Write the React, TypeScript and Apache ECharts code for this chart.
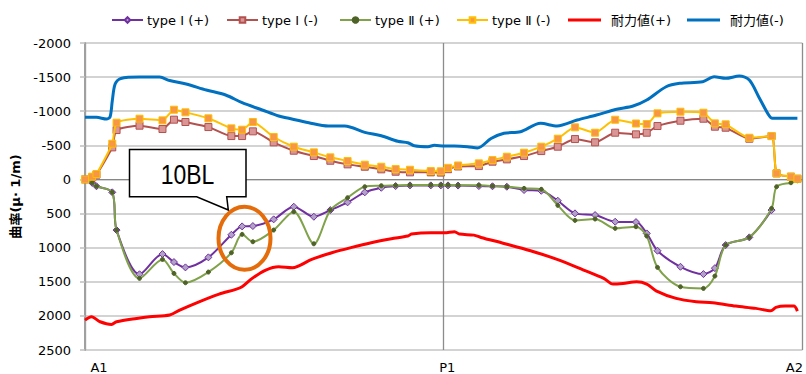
import React, { useEffect, useRef } from "react";
import * as echarts from "echarts";

// Marker positions along the bridge (A1 = 0, P1 = 50, A2 = 100)
const xPos = [0, 1.0, 1.6, 3.8, 4.4, 7.6, 10.8, 12.4, 14.0, 17.2, 20.4, 21.9, 23.4, 26.3, 29.1, 31.9, 34.2, 36.6, 39.0, 41.3, 43.3, 45.3, 48.2, 49.6, 50.6, 52.0, 54.9, 56.8, 58.8, 61.2, 63.6, 65.9, 68.3, 71.1, 73.9, 76.8, 78.3, 79.8, 83.0, 86.2, 87.8, 89.3, 92.6, 95.7, 96.4, 98.4, 99.3];

const typeIPlus = [0, 50, 100, 189, 742, 1390, 1094, 1211, 1289, 1142, 811, 688, 683, 585, 400, 547, 449, 336, 189, 122, 97, 87, 87, 87, 87, 90, 97, 100, 107, 155, 166, 312, 497, 522, 620, 625, 791, 1045, 1280, 1387, 1300, 962, 849, 449];
const typeIMinus = [0, -30, -70, -470, -724, -788, -739, -876, -842, -768, -636, -636, -705, -544, -421, -343, -274, -221, -186, -148, -113, -104, -104, -100, -150, -190, -196, -260, -294, -343, -416, -480, -592, -544, -685, -661, -685, -783, -861, -890, -773, -758, -597, -636, -89, -40, -10];
const typeIIPlus = [0, 50, 100, 189, 742, 1450, 1172, 1377, 1514, 1358, 1075, 805, 913, 742, 473, 943, 449, 268, 107, 92, 87, 82, 82, 82, 82, 85, 85, 97, 107, 131, 145, 380, 600, 580, 717, 693, 830, 1289, 1573, 1597, 1416, 962, 849, 424, 107, 48, 19];
const typeIIMinus = [0, -40, -79, -524, -832, -890, -866, -1022, -984, -896, -749, -729, -842, -622, -480, -397, -324, -270, -216, -186, -152, -142, -123, -120, -170, -205, -236, -284, -333, -392, -480, -597, -764, -685, -875, -820, -812, -969, -993, -978, -822, -808, -611, -636, -89, -40, -10];

const redX = [0, 0.9, 2.1, 3.7, 4.4, 7.2, 9.0, 11.8, 13.2, 15.9, 18.7, 21.0, 21.9, 23.3, 25.2, 27.0, 28.9, 31.6, 34.4, 37.2, 39.9, 42.7, 45.0, 45.5, 48.2, 50.1, 51.5, 52.2, 54.2, 55.2, 58.4, 62.1, 65.8, 69.5, 72.3, 73.6, 75.0, 76.9, 78.3, 79.6, 82.4, 85.2, 87.5, 90.7, 93.5, 95.6, 96.3, 97.6, 98.8, 99.3];
const redY = [2062, 2013, 2086, 2125, 2086, 2037, 2013, 1988, 1915, 1793, 1680, 1612, 1573, 1450, 1328, 1280, 1295, 1172, 1075, 996, 928, 870, 830, 801, 782, 782, 765, 801, 816, 850, 938, 1045, 1172, 1328, 1450, 1534, 1524, 1500, 1534, 1632, 1744, 1793, 1808, 1856, 1890, 1925, 1876, 1856, 1856, 1930];

const blueX = [0, 1.6, 3.0, 3.5, 3.8, 4.2, 5.0, 7.6, 10.4, 11.8, 14.1, 16.9, 19.6, 21.9, 24.7, 27.0, 28.4, 31.2, 33.9, 36.2, 39.0, 41.3, 43.6, 45.0, 45.9, 47.8, 48.7, 50.1, 51.5, 53.3, 54.7, 56.6, 58.4, 60.7, 63.5, 65.8, 68.6, 71.3, 74.1, 76.4, 78.3, 81.0, 82.9, 86.1, 87.7, 89.3, 91.2, 92.6, 93.9, 95.3, 95.8, 99.3];
const blueY = [-910, -910, -885, -920, -1150, -1400, -1480, -1500, -1500, -1450, -1399, -1311, -1238, -1125, -1018, -930, -896, -831, -783, -783, -690, -640, -560, -538, -495, -480, -500, -490, -490, -480, -460, -600, -676, -700, -822, -783, -871, -944, -1028, -1076, -1164, -1359, -1409, -1432, -1506, -1482, -1516, -1457, -1213, -944, -896, -896];

const seriesNames = ["type Ⅰ (+)", "type Ⅰ (-)", "type Ⅱ (+)", "type Ⅱ (-)", "耐力値(+)", "耐力値(-)"];
const xLabels = ["A1", "P1", "A2"];
const yMin = -2000;
const yMax = 2500;
const yStep = 500;
const yName = "曲率(μ· 1/m)";
const calloutText = "10BL";

const pair = (xs: number[], ys: number[]) => ys.map((v, i) => [xs[i], v]);

const FONT = "'DejaVu Sans', 'Noto Sans CJK JP', sans-serif";

export default function App() {
  const ref = useRef<HTMLDivElement>(null);
  useEffect(() => {
    if (!ref.current) return;
    const chart = echarts.init(ref.current, undefined, { renderer: "svg" });
    const legendLefts = [111, 226, 339, 456, 568, 687];
    const legends = seriesNames.map((n, i) => {
      const plain = i >= 4;
      return {
        data: plain ? [{ name: n, icon: "rect" }] : [n],
        left: legendLefts[i],
        top: plain ? 13.5 : 13.5,
        padding: 0,
        itemWidth: plain ? 33 : 31,
        itemHeight: plain ? 3 : 7,
        itemGap: 0,
        textStyle: {
          fontFamily: FONT,
          fontSize: 13,
          color: "#000",
          padding: plain ? [0, 0, 0, 5] : [0, 0, 0, -1],
        },
      };
    });
    chart.setOption({
      animation: false,
      backgroundColor: "#fff",
      legend: legends,
      grid: { left: 85, right: 0, top: 43, bottom: 24 },
      xAxis: [
        {
          type: "value",
          min: 0,
          max: 100,
          interval: 50,
          position: "top",
          axisLine: { show: true, onZero: true, lineStyle: { color: "#868686", width: 1 } },
          axisTick: { show: false },
          axisLabel: { show: false },
          splitLine: { show: true, lineStyle: { color: "#8C8C8C", width: 1.3 } },
        },
        {
          type: "value",
          min: 0,
          max: 100,
          interval: 50,
          position: "bottom",
          axisLine: { show: false, onZero: false },
          axisTick: { show: false },
          splitLine: { show: false },
          axisLabel: {
            margin: 11,
            fontFamily: FONT,
            fontSize: 13,
            color: "#000",
            formatter: (v: number) =>
              v === 0 ? `{a|${xLabels[0]}}` : v === 50 ? `{b|${xLabels[1]}}` : `{c|${xLabels[2]}}`,
            rich: {
              a: { padding: [0, 0, 0, 28], fontFamily: FONT, fontSize: 13, color: "#000" },
              b: { padding: [0, 0, 0, 7], fontFamily: FONT, fontSize: 13, color: "#000" },
              c: { padding: [0, 16, 0, 0], fontFamily: FONT, fontSize: 13, color: "#000" },
            },
          },
        },
      ],
      yAxis: {
        type: "value",
        inverse: true,
        min: yMin,
        max: yMax,
        interval: yStep,
        name: yName,
        nameLocation: "middle",
        nameRotate: 90,
        nameGap: 58,
        nameTextStyle: { fontFamily: FONT, fontSize: 13, fontWeight: "bold", color: "#000" },
        axisLine: { show: true, lineStyle: { color: "#A0A0A0", width: 2 } },
        axisTick: { show: true, length: 5, lineStyle: { color: "#BFBFBF", width: 1.5 } },
        axisLabel: {
          margin: 14,
          fontFamily: FONT,
          fontSize: 13,
          color: "#000",
          formatter: (v: number) => String(v),
        },
        splitLine: { show: true, lineStyle: { color: "#C4C4C4", width: 1.5 } },
      },
      series: [
        {
          name: seriesNames[0],
          type: "line",
          smooth: 0.3,
          data: pair(xPos, typeIPlus),
          symbol: "diamond",
          symbolSize: 7,
          lineStyle: { color: "#7030A0", width: 2 },
          itemStyle: { color: "#B3A2C7", borderColor: "#7030A0", borderWidth: 1 },
          z: 2,
        },
        {
          name: seriesNames[1],
          type: "line",
          smooth: 0.2,
          data: pair(xPos, typeIMinus),
          symbol: "rect",
          symbolSize: 7,
          lineStyle: { color: "#B3514F", width: 2 },
          itemStyle: { color: "#D99694", borderColor: "#B3514F", borderWidth: 1 },
          z: 3,
        },
        {
          name: seriesNames[2],
          type: "line",
          smooth: 0.3,
          data: pair(xPos, typeIIPlus),
          symbol: "circle",
          symbolSize: 4,
          lineStyle: { color: "#7FA24A", width: 2 },
          itemStyle: { color: "#4F6228", borderColor: "#4F6228", borderWidth: 1 },
          z: 4,
        },
        {
          name: seriesNames[3],
          type: "line",
          smooth: 0.2,
          data: pair(xPos, typeIIMinus),
          symbol: "rect",
          symbolSize: 7,
          lineStyle: { color: "#FFC000", width: 2 },
          itemStyle: { color: "#F79646", borderColor: "#FFC000", borderWidth: 1 },
          z: 5,
        },
        {
          name: seriesNames[4],
          type: "line",
          smooth: 0.3,
          showSymbol: false,
          symbol: "none",
          data: pair(redX, redY),
          lineStyle: { color: "#FF0000", width: 3 },
          itemStyle: { color: "#FF0000" },
          z: 6,
        },
        {
          name: seriesNames[5],
          type: "line",
          smooth: 0.3,
          showSymbol: false,
          symbol: "none",
          data: pair(blueX, blueY),
          lineStyle: { color: "#0070C0", width: 3 },
          itemStyle: { color: "#0070C0" },
          z: 6,
        },
      ],
      graphic: [
        {
          type: "polygon",
          z: 100,
          shape: {
            points: [
              [129.5, 149.5],
              [246, 149.5],
              [246, 196.7],
              [226.7, 196.7],
              [228.3, 210],
              [196.7, 196.7],
              [129.5, 196.7],
            ],
          },
          style: { fill: "#fff", stroke: "#000", lineWidth: 1.5 },
        },
        {
          type: "text",
          z: 101,
          x: 187.5,
          y: 174,
          scaleX: 0.82,
          style: {
            text: calloutText,
            fontFamily: "'Liberation Sans', sans-serif",
            fontSize: 28,
            fill: "#000",
            align: "center",
            verticalAlign: "middle",
          },
        },
        {
          type: "ellipse",
          z: 100,
          shape: { cx: 244.5, cy: 238.3, rx: 26, ry: 31.5 },
          style: { fill: "none", stroke: "#E46C0A", lineWidth: 4 },
        },
      ],
    });
    return () => chart.dispose();
  }, []);
  return (
    <div
      ref={ref}
      style={{ position: "absolute", left: 0, top: 0, width: 806, height: 374, background: "#fff" }}
    />
  );
}
